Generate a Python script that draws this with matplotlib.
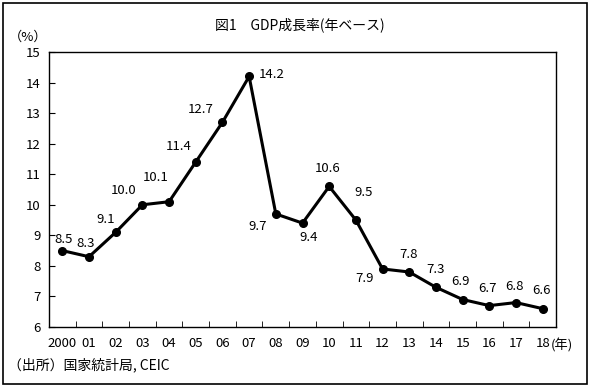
import matplotlib.pyplot as plt
from matplotlib.patches import Rectangle

plt.rcParams['font.family'] = ['Noto Sans CJK JP', 'DejaVu Sans']

years = ['2000', '01', '02', '03', '04', '05', '06', '07', '08', '09',
         '10', '11', '12', '13', '14', '15', '16', '17', '18']
growth = [8.5, 8.3, 9.1, 10.0, 10.1, 11.4, 12.7, 14.2, 9.7, 9.4,
          10.6, 9.5, 7.9, 7.8, 7.3, 6.9, 6.7, 6.8, 6.6]
# label offsets in pixels (dx, dy)
offsets = [(1, 11), (-3, 13), (-10, 13), (-19, 14), (-13, 24), (-17, 15),
           (-22, 13), (23, 2), (-18, -13), (6, -14), (-2, 18), (8, 28),
           (-18, -10), (-1, 18), (0, 18), (-2, 18), (-2, 17), (-1, 16), (-1, 18)]

fig = plt.figure(figsize=(5.93, 3.90), dpi=100)
ax = fig.add_axes([49 / 593, 63 / 390, 507 / 593, 275 / 390])

x = list(range(len(years)))
ax.plot(x, growth, color='black', lw=2.2, marker='o', ms=5.5)

for xi, v, (dx, dy) in zip(x, growth, offsets):
    ax.annotate(f'{v:.1f}', (xi, v), xytext=(dx * 0.72, dy * 0.72),
                textcoords='offset points', ha='center', va='center', fontsize=9.5)

ax.set_xlim(-0.5, len(years) - 0.5)
ax.set_ylim(6, 15)
ax.set_yticks(range(6, 16))
ax.set_xticks(x)
ax.set_xticklabels(years)
ax.set_xticks([i + 0.5 for i in x[:-1]], minor=True)
ax.tick_params(axis='x', which='major', length=0, pad=7, labelsize=9.5)
ax.tick_params(axis='x', which='minor', direction='in', length=4)
ax.tick_params(axis='y', direction='in', length=4, pad=6, labelsize=9.5)
for s in ax.spines.values():
    s.set_linewidth(1)

# (年) right after the last year label
ax.text(len(years) - 1 + 0.3, -0.066, '(年)', transform=ax.get_xaxis_transform(),
        ha='left', va='center', fontsize=9.5)
fig.text(28 / 593, 1 - 37 / 390, '（%）', ha='center', va='center', fontsize=9.5)
fig.text(300 / 593, 1 - 25 / 390, '図1　GDP成長率(年ベース)', ha='center', va='center', fontsize=10)
fig.text(8 / 593, 1 - 365 / 390, '（出所）国家統計局, CEIC', ha='left', va='center', fontsize=10)

fig.patches.append(Rectangle((3 / 593, 6 / 390), 584 / 593, 381 / 390, transform=fig.transFigure,
                             fill=False, edgecolor='black', lw=1.2))

fig.savefig('out.png', dpi=100)
